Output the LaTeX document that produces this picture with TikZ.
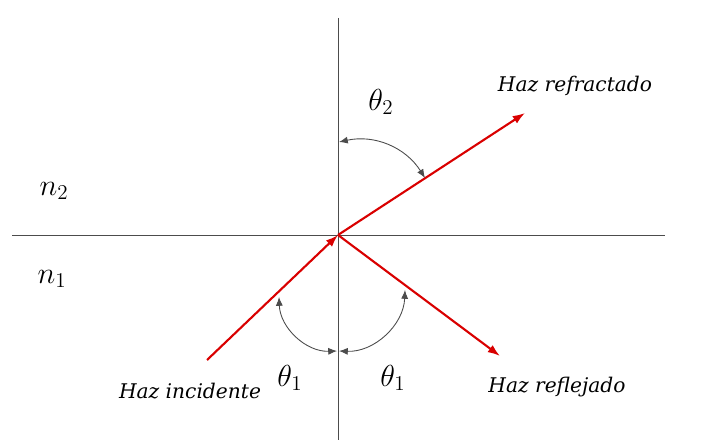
\documentclass[tikz,border=0pt]{standalone}
\usepackage{amsmath}
\usepackage{amssymb}
\usepackage{fontspec}
\usepackage{tikz}
\usetikzlibrary{arrows.meta}
\newfontfamily\hazfont{DejaVu Serif}

\begin{document}
\begin{tikzpicture}[
                x=0.02cm, y=-0.02cm,
                eje/.style={draw=black!70, line width=0.5pt},
                rayo/.style={draw=red!85!black, line width=1.2pt, -{Latex[length=7pt,width=5pt]}},
                angulo/.style={draw=black!70, line width=0.5pt, {Latex[length=5pt,width=4pt]}-{Latex[length=5pt,width=4pt]}},
                simbolo/.style={font=\LARGE},
                etiqueta/.style={font=\hazfont\itshape\fontsize{11.5}{13}\selectfont}
            ]
                \useasboundingbox (0,0) rectangle (719,442);
                % ejes
                \coordinate (O) at (338,235);
                \coordinate (arriba) at (338,18);
                \coordinate (abajo) at (338,440);
                \coordinate (izq) at (12,235);
                \coordinate (der) at (665,235);
                \draw[eje] (arriba) -- (abajo);
                \draw[eje] (izq) -- (der);
                % rayos
                \coordinate (inc) at (207,360);
                \coordinate (refr) at (525,113);
                \coordinate (refl) at (500,356);
                \draw[rayo] (inc) -- (O);
                \draw[rayo] (O) -- (refr);
                \draw[rayo] (O) -- (refl);
                % angulos
                \coordinate (v2) at (339,142);
                \coordinate (r2) at (425,178);
                \coordinate (i1) at (279,297);
                \coordinate (v1a) at (337,351);
                \coordinate (v1b) at (339,351);
                \coordinate (r1) at (405,290);
                \draw[angulo] (v2) to[bend left=35] (r2);
                \draw[angulo] (i1) to[bend right=45] (v1a);
                \draw[angulo] (v1b) to[bend right=45] (r1);
                % textos
                \node[simbolo] (t2) at (381,102) {$\theta_2$};
                \node[simbolo] (t1a) at (290,378) {$\theta_1$};
                \node[simbolo] (t1b) at (393,378) {$\theta_1$};
                \node[simbolo] (n2) at (54,191) {$n_2$};
                \node[simbolo] (n1) at (52,279) {$n_1$};
                \node[etiqueta] (hrefr) at (575,86) {Haz refractado};
                \node[etiqueta] (hinc) at (190,391) {Haz incidente};
                \node[etiqueta] (hrefl) at (557,387) {Haz reflejado};
            \end{tikzpicture}
\end{document}
